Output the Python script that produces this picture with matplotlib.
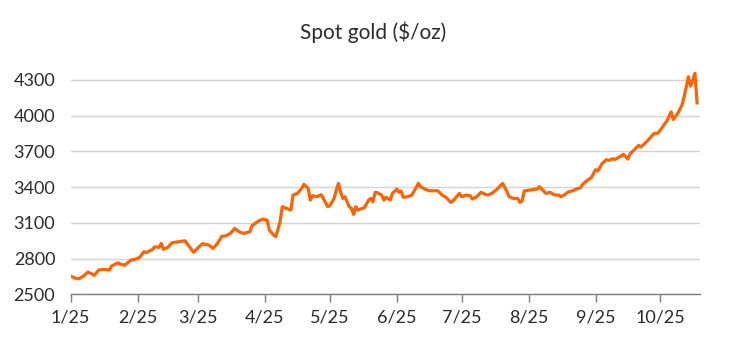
import matplotlib
matplotlib.use("Agg")
import matplotlib.pyplot as plt
import numpy as np
import pandas as pd

# Spot gold (days counted from 1 Jan 2025)
days = [0, 2, 4, 6, 8, 10, 11, 13, 15, 18, 19, 22, 23, 25, 28, 30, 32, 34, 35,
        38, 39, 41, 42, 43, 45, 47, 49, 53, 55, 57, 59, 61, 64, 66, 68, 70, 72,
        74, 76, 78, 80, 83, 84, 87, 89, 91, 92, 94, 95, 97, 98, 100, 102, 103,
        105, 107, 108, 110, 111, 112, 114, 116, 117, 119, 120, 122, 123, 124,
        125, 126, 127, 128, 129, 130, 131, 132, 133, 135, 136, 138, 139, 140,
        141, 142, 144, 145, 146, 148, 149, 151, 152, 153, 154, 156, 158, 161,
        162, 164, 166, 170, 172, 174, 176, 177, 180, 181, 183, 185, 186, 188,
        190, 192, 193, 195, 197, 200, 202, 203, 205, 207, 208, 209, 210, 212,
        214, 216, 217, 219, 220, 222, 224, 226, 227, 229, 230, 232, 234, 236,
        237, 239, 241, 243, 244, 246, 248, 249, 251, 252, 254, 256, 258, 259,
        261, 263, 264, 266, 268, 270, 272, 274, 276, 278, 279, 281, 283, 284,
        286, 287, 288, 289, 290]
price = [2654, 2637, 2631, 2654, 2687, 2670, 2660, 2704, 2710, 2704, 2738, 2765,
         2755, 2744, 2788, 2794, 2811, 2858, 2850, 2878, 2900, 2895, 2928, 2878,
         2895, 2933, 2939, 2950, 2900, 2853, 2891, 2925, 2914, 2886, 2928, 2987,
         2992, 3012, 3054, 3026, 3012, 3026, 3076, 3116, 3132, 3124, 3040, 2998,
         2984, 3110, 3236, 3222, 3208, 3334, 3348, 3390, 3424, 3390, 3292, 3328,
         3320, 3337, 3306, 3236, 3244, 3306, 3376, 3432, 3362, 3306, 3320, 3278,
         3236, 3222, 3172, 3236, 3208, 3222, 3228, 3292, 3306, 3278, 3357, 3354,
         3334, 3292, 3315, 3292, 3348, 3384, 3357, 3368, 3315, 3320, 3334, 3432,
         3404, 3384, 3370, 3370, 3334, 3312, 3272, 3285, 3348, 3320, 3334, 3328,
         3300, 3320, 3357, 3340, 3334, 3348, 3376, 3432, 3362, 3320, 3306, 3306,
         3272, 3284, 3368, 3374, 3379, 3384, 3404, 3368, 3348, 3357, 3334, 3334,
         3320, 3340, 3357, 3368, 3384, 3395, 3423, 3456, 3479, 3547, 3535, 3597,
         3631, 3625, 3639, 3633, 3653, 3676, 3636, 3681, 3715, 3751, 3737, 3771,
         3808, 3850, 3855, 3906, 3956, 4032, 3968, 4018, 4088, 4158, 4327, 4248,
         4299, 4356, 4108]
y_ticks = [2500, 2800, 3100, 3400, 3700, 4000, 4300]
month_starts = pd.date_range("2025-01-01", "2025-10-01", freq="MS")

start = pd.Timestamp("2025-01-01")
dates = start + pd.to_timedelta(days, unit="D")

plt.rcParams["font.family"] = ["Lato", "DejaVu Sans"]
text_col = "#2b2b2b"

fig = plt.figure(figsize=(7.44, 3.43), dpi=100)
ax = fig.add_axes([0.0948, 0.1418, 0.8462, 0.6597])

ax.plot(dates, price, color="#ff6200", linewidth=2.3, solid_joinstyle="round")

ax.set_ylim(2500, 4400)
ax.set_yticks(y_ticks)
ax.set_yticklabels([str(v) for v in y_ticks])
ax.set_xlim(start, start + pd.Timedelta(days=291.4))
ax.set_xticks(month_starts)
ax.set_xticklabels([f"{d.month}/{d:%y}" for d in month_starts])

ax.grid(axis="y", color="#d4d4d4", linewidth=1.0)
ax.set_axisbelow(True)
for s in ["top", "right", "left"]:
    ax.spines[s].set_visible(False)
ax.spines["bottom"].set_color("#7f7f7f")
ax.spines["bottom"].set_linewidth(1.0)

ax.tick_params(axis="y", length=0, pad=11, labelsize=13, labelcolor=text_col)
ax.tick_params(axis="x", length=6, width=1.0, color="#7f7f7f", pad=5,
               labelsize=13, labelcolor=text_col)

fig.text(0.502, 0.905, "Spot gold ($/oz)", ha="center", va="center",
         fontsize=15, color=text_col)

fig.savefig("out.png", dpi=100)
